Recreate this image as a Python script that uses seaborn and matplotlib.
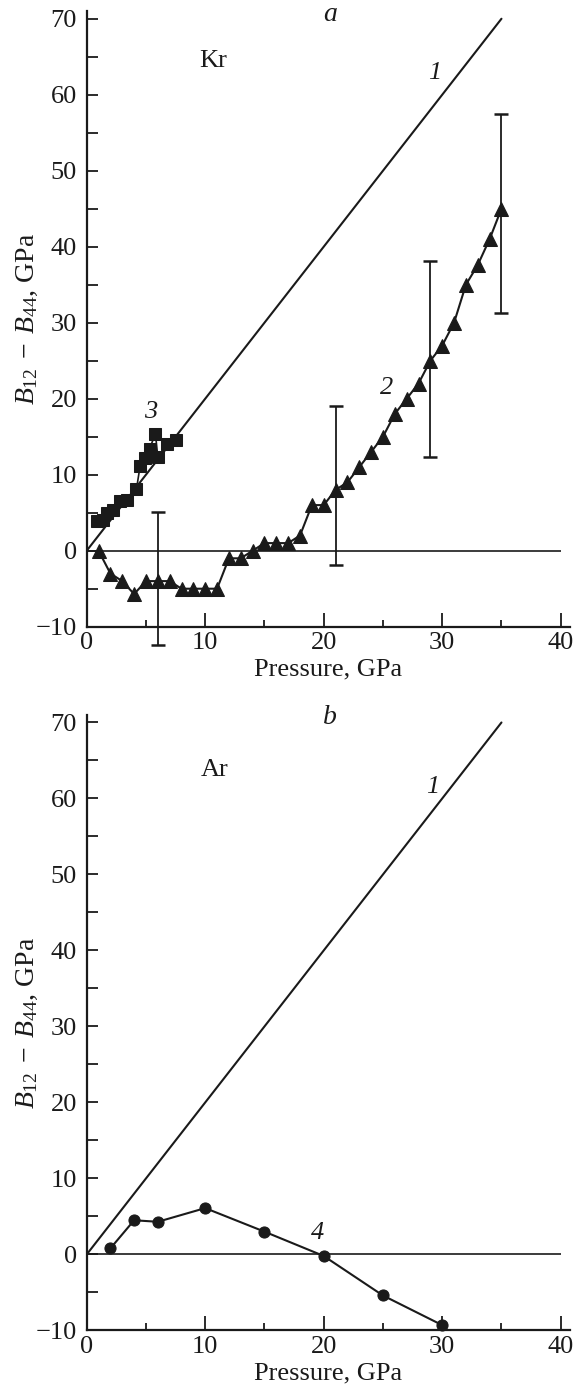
import numpy as np
import pandas as pd
import matplotlib
matplotlib.use("Agg")
import matplotlib.pyplot as plt
import seaborn as sns

# line 1 (both panels)
line1_p = [0, 35]
line1_b = [0, 70]

# Kr, curve 2 (triangles)
kr2_p = [1, 2, 3, 4, 5, 6, 7, 8, 9, 10, 11, 12, 13, 14, 15, 16, 17, 18,
         19, 20, 21, 22, 23, 24, 25, 26, 27, 28, 29, 30, 31, 32, 33, 34, 35]
kr2_b = [0, -3, -4, -5.7, -4, -4, -4, -5, -5, -5, -5, -1, -1, 0, 1, 1, 1, 2,
         6, 6, 8, 9, 11, 13, 15, 18, 20, 22, 25, 27, 30, 35, 37.6, 41, 45]

# Kr, curve 3 (squares)
kr3_p = [0.9, 1.4, 1.7, 2.2, 2.8, 3.4, 4.2, 4.5, 4.9, 5.3, 5.8, 6.0, 6.8, 7.5]
kr3_b = [3.9, 4.0, 5.0, 5.4, 6.6, 6.7, 8.1, 11.1, 12.2, 13.4, 15.4, 12.3, 14.0, 14.6]

# error bars on curve 2
err_p = [6, 21, 29, 35]
err_lo = [-12.4, -1.9, 12.3, 31.3]
err_hi = [5.1, 19.0, 38.1, 57.5]

# Ar, curve 4 (circles)
ar4_p = [2, 4, 6, 10, 15, 20, 25, 30]
ar4_b = [0.8, 4.5, 4.3, 6.1, 3.0, -0.2, -5.4, -9.3]

x_ticks = [0, 10, 20, 30, 40]
y_ticks = [-10, 0, 10, 20, 30, 40, 50, 60, 70]

sns.set_style("ticks")
plt.rcParams["font.family"] = ["Liberation Serif", "DejaVu Serif"]
plt.rcParams["mathtext.fontset"] = "custom"
plt.rcParams["mathtext.rm"] = "Liberation Serif"
plt.rcParams["mathtext.it"] = "Liberation Serif:italic"
ink = "#1a1a1a"

fig = plt.figure(figsize=(5.78, 13.93), dpi=100)
ax_a = fig.add_axes([0.150, 0.5501, 0.8365, 0.4419])
ax_b = fig.add_axes([0.150, 0.0449, 0.8365, 0.4419])

for ax in (ax_a, ax_b):
    sns.lineplot(x=line1_p, y=line1_b, ax=ax, color=ink, lw=1.5)
    ax.hlines(0, x_ticks[0], x_ticks[-1], color=ink, lw=1.2)
    ax.set_xlim(0, 40.8)
    ax.set_ylim(-10, 71)
    ax.set_xticks(x_ticks)
    ax.set_xticks(np.arange(5, 40, 10), minor=True)
    ax.set_yticks(y_ticks)
    ax.set_yticks(np.arange(-5, 70, 10), minor=True)
    ax.set_yticklabels([f"\u2212{abs(v)}" if v < 0 else str(v) for v in y_ticks])
    ax.tick_params(which="both", direction="in", colors=ink, labelsize=19, width=1.3)
    ax.tick_params(axis="x", which="major", length=10, pad=4)
    ax.tick_params(axis="x", which="minor", length=5)
    ax.tick_params(axis="y", which="both", length=8, pad=7)
    for s in ("top", "right"):
        ax.spines[s].set_visible(False)
    for s in ("left", "bottom"):
        ax.spines[s].set_linewidth(1.6)
        ax.spines[s].set_color(ink)
    ax.set_xlabel("Pressure, GPa", fontsize=19, color=ink, labelpad=3)
    ax.set_ylabel(r"$B_{12}\;-\;B_{44}$, GPa", fontsize=20, color=ink)
    ax.yaxis.set_label_coords(-0.097, 0.5)

# panel a: Kr
sns.lineplot(x=kr2_p, y=kr2_b, ax=ax_a, color=ink, lw=1.5, marker="^",
             markersize=10, markeredgecolor=ink, sort=False)
sns.lineplot(x=kr3_p, y=kr3_b, ax=ax_a, color=ink, lw=1.2, marker="s",
             markersize=8.5, markeredgecolor=ink, sort=False)
err_mid = [(lo + hi) / 2 for lo, hi in zip(err_lo, err_hi)]
err_half = [(hi - lo) / 2 for lo, hi in zip(err_lo, err_hi)]
eb = ax_a.errorbar(err_p, err_mid, yerr=err_half, fmt="none", ecolor=ink,
                   elinewidth=1.3, capsize=5, capthick=1.8)
for art in eb.lines[1] + eb.lines[2]:
    art.set_clip_on(False)
for art in eb.lines[2]:
    art.set_clip_on(False)

ax_a.text(20.5, 70.6, "a", fontsize=20, style="italic", ha="center", va="center", color=ink)
ax_a.text(10.7, 64.5, "Kr", fontsize=19, ha="center", va="center", color=ink)
ax_a.text(29.4, 62.8, "1", fontsize=19, style="italic", ha="center", va="center", color=ink)
ax_a.text(25.3, 21.4, "2", fontsize=19, style="italic", ha="center", va="center", color=ink)
ax_a.text(5.4, 18.2, "3", fontsize=19, style="italic", ha="center", va="center", color=ink)

# panel b: Ar
sns.lineplot(x=ar4_p, y=ar4_b, ax=ax_b, color=ink, lw=1.5, marker="o",
             markersize=8, markeredgecolor=ink, sort=False, clip_on=False)

ax_b.text(20.5, 70.6, "b", fontsize=20, style="italic", ha="center", va="center", color=ink)
ax_b.text(10.8, 63.7, "Ar", fontsize=19, ha="center", va="center", color=ink)
ax_b.text(29.2, 61.5, "1", fontsize=19, style="italic", ha="center", va="center", color=ink)
ax_b.text(19.5, 2.8, "4", fontsize=19, style="italic", ha="center", va="center", color=ink)

fig.savefig("out.png", dpi=100, facecolor="white")
